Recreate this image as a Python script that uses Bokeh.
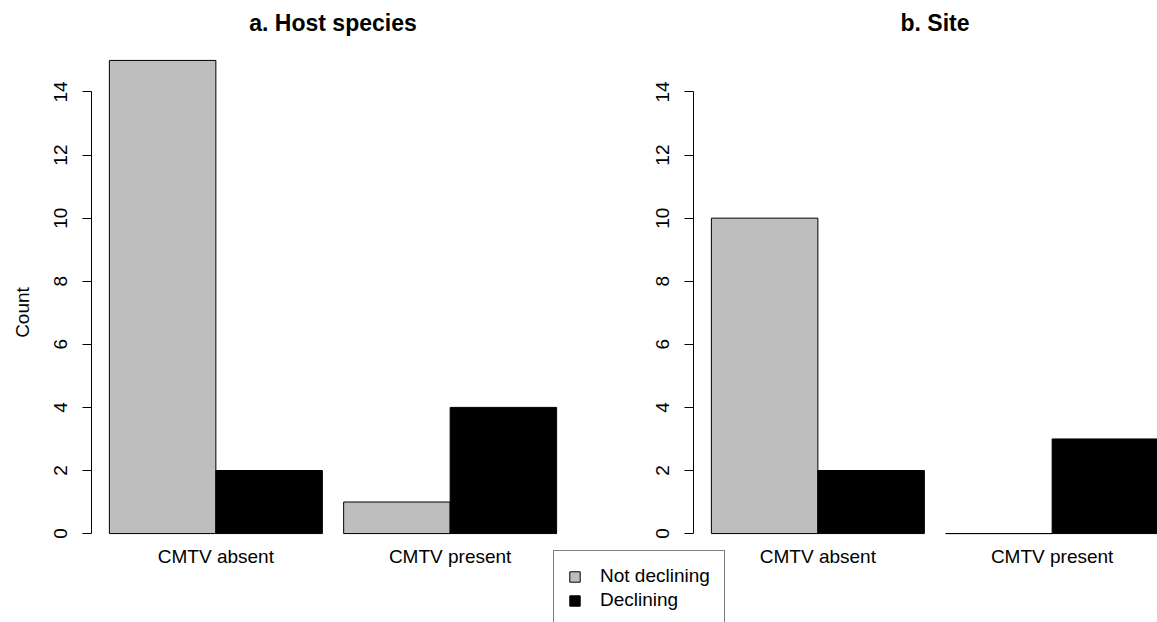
from bokeh.plotting import figure
from bokeh.models import (Range1d, LinearAxis, FixedTicker, Legend, LegendItem, Label)
from bokeh.embed import file_html
from bokeh.resources import INLINE

# ---- data ----
categories = ["CMTV absent", "CMTV present"]
series_names = ["Not declining", "Declining"]
host_not_declining = [15, 1]
host_declining = [2, 4]
site_not_declining = [10, 0]
site_declining = [2, 3]
y_ticks = [0, 2, 4, 6, 8, 10, 12, 14]
panel_titles = ["a. Host species", "b. Site"]
y_label = "Count"

FONT = "Liberation Sans"
GREY = "#bebebe"

# ---- layout (R barplot style geometry) ----
W, H = 1157, 622
bar_w = 1.0
gap = 0.2
n_series = 2
xs_not = [gap + g * (n_series * bar_w + gap) + 0.5 * bar_w for g in range(len(categories))]
xs_dec = [x + bar_w for x in xs_not]
centers = [x + 0.5 * bar_w for x in xs_not]
left = gap
right = gap + len(categories) * (n_series * bar_w + gap) - gap
pad = 0.04 * (right - left)
lo = left - pad
hi = right + pad

# plot region of panel a in pixels (canvas coords)
PA_LEFT, PA_W = 91, 483
PANEL_STEP = 602
PR_TOP, PR_BOTTOM = 41, 552

upx = (hi - lo) / PA_W
xa = Range1d(lo - PA_LEFT * upx, lo - PA_LEFT * upx + W * upx)
b_start = lo - (PA_LEFT + PANEL_STEP) * upx
xb = Range1d(b_start, b_start + W * upx)

ymax = max(max(host_not_declining), max(host_declining))
ypad = 0.04 * ymax
ylo, yhi = -ypad, ymax + ypad
upy = (yhi - ylo) / (PR_BOTTOM - PR_TOP)
yr = Range1d(ylo - (H - PR_BOTTOM) * upy, yhi + PR_TOP * upy)

p = figure(width=W, height=H, x_range=xa, y_range=yr,
           extra_x_ranges={"b": xb},
           x_axis_location=None, y_axis_location=None,
           output_backend="svg", toolbar_location=None,
           min_border=0, min_border_left=0, min_border_right=0,
           min_border_top=0, min_border_bottom=0)
p.outline_line_color = None
p.xgrid.visible = False
p.ygrid.visible = False
p.background_fill_color = "white"
p.border_fill_color = "white"

# bars panel a
ra1 = p.vbar(x=xs_not, top=host_not_declining, bottom=0, width=bar_w,
             fill_color=GREY, line_color="black", line_width=1)
ra2 = p.vbar(x=xs_dec, top=host_declining, bottom=0, width=bar_w,
             fill_color="black", line_color="black", line_width=1)
# bars panel b
p.vbar(x=xs_not, top=site_not_declining, bottom=0, width=bar_w,
       fill_color=GREY, line_color="black", line_width=1, x_range_name="b")
p.vbar(x=xs_dec, top=site_declining, bottom=0, width=bar_w,
       fill_color="black", line_color="black", line_width=1, x_range_name="b")


def style_y(ax, with_label):
    ax.ticker = FixedTicker(ticks=y_ticks)
    ax.bounds = (y_ticks[0], y_ticks[-1])
    ax.major_label_orientation = "vertical"
    ax.major_label_text_font = FONT
    ax.major_label_text_font_size = "19px"
    ax.major_label_text_color = "black"
    ax.major_tick_out = 9
    ax.major_tick_in = 0
    ax.minor_tick_out = 0
    ax.minor_tick_in = 0
    ax.major_label_standoff = 15
    ax.axis_line_color = "black"
    ax.major_tick_line_color = "black"
    if with_label:
        ax.axis_label = y_label
        ax.axis_label_text_font = FONT
        ax.axis_label_text_font_size = "19px"
        ax.axis_label_text_font_style = "normal"
        ax.axis_label_text_color = "black"
        ax.axis_label_standoff = 19


ya = LinearAxis(fixed_location=lo)
style_y(ya, True)
p.add_layout(ya, "left")
yb = LinearAxis(x_range_name="b", fixed_location=lo)
style_y(yb, False)
p.add_layout(yb, "left")


def style_x(ax):
    ax.ticker = FixedTicker(ticks=centers)
    ax.major_label_overrides = {c: cat for c, cat in zip(centers, categories)}
    ax.major_label_text_font = FONT
    ax.major_label_text_font_size = "19px"
    ax.major_label_text_color = "black"
    ax.axis_line_color = None
    ax.major_tick_line_color = None
    ax.minor_tick_line_color = None
    ax.major_tick_out = 0
    ax.major_label_standoff = 12


xa_ax = LinearAxis(fixed_location=0)
style_x(xa_ax)
p.add_layout(xa_ax, "below")
xb_ax = LinearAxis(x_range_name="b", fixed_location=0)
style_x(xb_ax)
p.add_layout(xb_ax, "below")

# panel titles (centred over each panel, in the top margin)
title_y = yhi + 19 * upy
for name, rng in zip(panel_titles, [None, "b"]):
    kw = {} if rng is None else {"x_range_name": rng}
    p.add_layout(Label(x=(lo + hi) / 2, y=title_y, text=name, text_align="center",
                       text_baseline="middle", text_font=FONT, text_font_size="23px",
                       text_font_style="bold", text_color="black", **kw))

legend = Legend(items=[LegendItem(label=series_names[0], renderers=[ra1]),
                       LegendItem(label=series_names[1], renderers=[ra2])],
                location=(553, -4), orientation="vertical",
                label_text_font=FONT, label_text_font_size="19px",
                label_text_color="black",
                glyph_width=13, glyph_height=13, label_height=20,
                label_standoff=19, spacing=2, padding=14, margin=0,
                border_line_color="black", border_line_width=1,
                background_fill_color="white", background_fill_alpha=1.0)
p.add_layout(legend, "center")

open("out.html", "w").write(file_html(p, INLINE))
